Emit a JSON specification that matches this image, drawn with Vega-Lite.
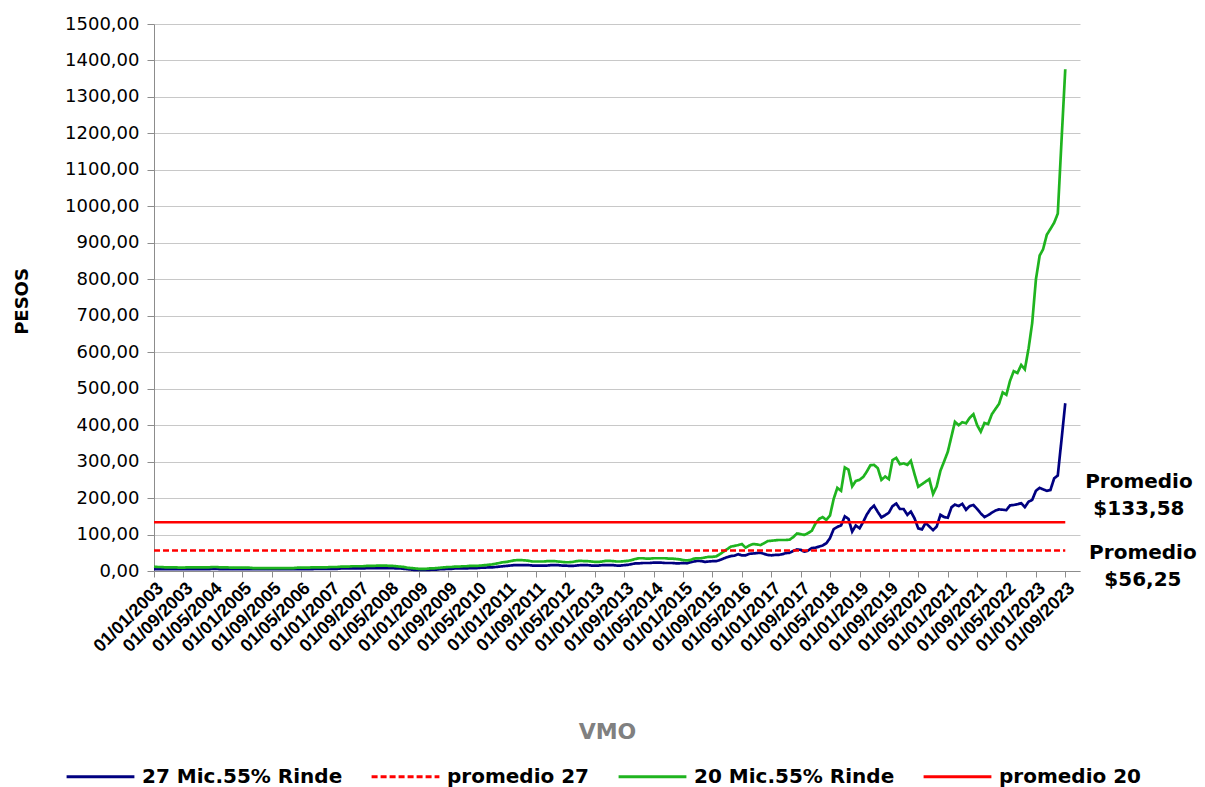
{
"$schema": "https://vega.github.io/schema/vega-lite/v6.json",
"width": 926,
"height": 547,
"autosize": {"type": "none"},
"padding": {"left": 154, "top": 24, "right": 125, "bottom": 216},
"background": "white",
"config": {"view": {"stroke": null}, "font": "DejaVu Sans"},
"data": {"values": [
{"d":"2003-01-01","a":5,"g":12},{"d":"2003-02-01","a":5,"g":11},{"d":"2003-03-01","a":5,"g":11},{"d":"2003-04-01","a":5,"g":10},{"d":"2003-05-01","a":5,"g":10},{"d":"2003-06-01","a":5,"g":10},{"d":"2003-07-01","a":5,"g":10},{"d":"2003-08-01","a":5,"g":9},{"d":"2003-09-01","a":5,"g":9},{"d":"2003-10-01","a":5,"g":10},{"d":"2003-11-01","a":5,"g":10},{"d":"2003-12-01","a":5,"g":10},
{"d":"2004-01-01","a":5,"g":10},{"d":"2004-02-01","a":5,"g":10},{"d":"2004-03-01","a":5,"g":10},{"d":"2004-04-01","a":5,"g":10},{"d":"2004-05-01","a":6,"g":11},{"d":"2004-06-01","a":6,"g":11},{"d":"2004-07-01","a":5,"g":10},{"d":"2004-08-01","a":5,"g":10},{"d":"2004-09-01","a":5,"g":10},{"d":"2004-10-01","a":5,"g":9},{"d":"2004-11-01","a":5,"g":9},{"d":"2004-12-01","a":5,"g":9},
{"d":"2005-01-01","a":5,"g":9},{"d":"2005-02-01","a":5,"g":9},{"d":"2005-03-01","a":5,"g":9},{"d":"2005-04-01","a":5,"g":8},{"d":"2005-05-01","a":5,"g":8},{"d":"2005-06-01","a":5,"g":8},{"d":"2005-07-01","a":5,"g":8},{"d":"2005-08-01","a":5,"g":8},{"d":"2005-09-01","a":5,"g":8},{"d":"2005-10-01","a":5,"g":8},{"d":"2005-11-01","a":5,"g":8},{"d":"2005-12-01","a":5,"g":8},
{"d":"2006-01-01","a":5,"g":8},{"d":"2006-02-01","a":5,"g":8},{"d":"2006-03-01","a":5,"g":8},{"d":"2006-04-01","a":5,"g":9},{"d":"2006-05-01","a":5,"g":9},{"d":"2006-06-01","a":5,"g":9},{"d":"2006-07-01","a":5,"g":9},{"d":"2006-08-01","a":5,"g":10},{"d":"2006-09-01","a":6,"g":10},{"d":"2006-10-01","a":6,"g":10},{"d":"2006-11-01","a":6,"g":10},{"d":"2006-12-01","a":6,"g":10},
{"d":"2007-01-01","a":6,"g":11},{"d":"2007-02-01","a":6,"g":11},{"d":"2007-03-01","a":6,"g":11},{"d":"2007-04-01","a":7,"g":12},{"d":"2007-05-01","a":7,"g":12},{"d":"2007-06-01","a":7,"g":12},{"d":"2007-07-01","a":7,"g":13},{"d":"2007-08-01","a":7,"g":13},{"d":"2007-09-01","a":7,"g":13},{"d":"2007-10-01","a":7,"g":13},{"d":"2007-11-01","a":8,"g":14},{"d":"2007-12-01","a":8,"g":14},
{"d":"2008-01-01","a":8,"g":14},{"d":"2008-02-01","a":8,"g":15},{"d":"2008-03-01","a":8,"g":15},{"d":"2008-04-01","a":8,"g":15},{"d":"2008-05-01","a":8,"g":14},{"d":"2008-06-01","a":8,"g":14},{"d":"2008-07-01","a":7,"g":13},{"d":"2008-08-01","a":7,"g":12},{"d":"2008-09-01","a":6,"g":11},{"d":"2008-10-01","a":5,"g":9},{"d":"2008-11-01","a":4,"g":8},{"d":"2008-12-01","a":3,"g":7},
{"d":"2009-01-01","a":3,"g":6},{"d":"2009-02-01","a":3,"g":6},{"d":"2009-03-01","a":3,"g":6},{"d":"2009-04-01","a":3,"g":7},{"d":"2009-05-01","a":4,"g":7},{"d":"2009-06-01","a":4,"g":8},{"d":"2009-07-01","a":5,"g":9},{"d":"2009-08-01","a":5,"g":10},{"d":"2009-09-01","a":6,"g":11},{"d":"2009-10-01","a":6,"g":11},{"d":"2009-11-01","a":7,"g":12},{"d":"2009-12-01","a":7,"g":12},
{"d":"2010-01-01","a":7,"g":13},{"d":"2010-02-01","a":7,"g":13},{"d":"2010-03-01","a":8,"g":14},{"d":"2010-04-01","a":8,"g":14},{"d":"2010-05-01","a":8,"g":14},{"d":"2010-06-01","a":9,"g":15},{"d":"2010-07-01","a":9,"g":16},{"d":"2010-08-01","a":10,"g":17},{"d":"2010-09-01","a":10,"g":18},{"d":"2010-10-01","a":11,"g":20},{"d":"2010-11-01","a":12,"g":22},{"d":"2010-12-01","a":13,"g":24},
{"d":"2011-01-01","a":14,"g":25},{"d":"2011-02-01","a":15,"g":27},{"d":"2011-03-01","a":16,"g":29},{"d":"2011-04-01","a":16,"g":30},{"d":"2011-05-01","a":16,"g":30},{"d":"2011-06-01","a":16,"g":29},{"d":"2011-07-01","a":16,"g":28},{"d":"2011-08-01","a":15,"g":26},{"d":"2011-09-01","a":15,"g":26},{"d":"2011-10-01","a":15,"g":26},{"d":"2011-11-01","a":15,"g":26},{"d":"2011-12-01","a":15,"g":27},
{"d":"2012-01-01","a":16,"g":27},{"d":"2012-02-01","a":16,"g":27},{"d":"2012-03-01","a":16,"g":26},{"d":"2012-04-01","a":15,"g":25},{"d":"2012-05-01","a":15,"g":24},{"d":"2012-06-01","a":14,"g":24},{"d":"2012-07-01","a":14,"g":25},{"d":"2012-08-01","a":15,"g":27},{"d":"2012-09-01","a":16,"g":28},{"d":"2012-10-01","a":16,"g":27},{"d":"2012-11-01","a":16,"g":27},{"d":"2012-12-01","a":15,"g":26},
{"d":"2013-01-01","a":15,"g":25},{"d":"2013-02-01","a":15,"g":25},{"d":"2013-03-01","a":16,"g":26},{"d":"2013-04-01","a":16,"g":28},{"d":"2013-05-01","a":16,"g":28},{"d":"2013-06-01","a":16,"g":27},{"d":"2013-07-01","a":15,"g":26},{"d":"2013-08-01","a":15,"g":26},{"d":"2013-09-01","a":16,"g":27},{"d":"2013-10-01","a":17,"g":28},{"d":"2013-11-01","a":19,"g":30},{"d":"2013-12-01","a":21,"g":33},
{"d":"2014-01-01","a":21,"g":35},{"d":"2014-02-01","a":22,"g":35},{"d":"2014-03-01","a":22,"g":34},{"d":"2014-04-01","a":22,"g":34},{"d":"2014-05-01","a":23,"g":35},{"d":"2014-06-01","a":23,"g":35},{"d":"2014-07-01","a":23,"g":35},{"d":"2014-08-01","a":22,"g":35},{"d":"2014-09-01","a":22,"g":34},{"d":"2014-10-01","a":22,"g":34},{"d":"2014-11-01","a":21,"g":33},{"d":"2014-12-01","a":21,"g":32},
{"d":"2015-01-01","a":22,"g":30},{"d":"2015-02-01","a":21,"g":29},{"d":"2015-03-01","a":24,"g":30},{"d":"2015-04-01","a":26,"g":34},{"d":"2015-05-01","a":28,"g":35},{"d":"2015-06-01","a":27,"g":35},{"d":"2015-07-01","a":25,"g":37},{"d":"2015-08-01","a":26,"g":39},{"d":"2015-09-01","a":27,"g":39},{"d":"2015-10-01","a":27,"g":40},{"d":"2015-11-01","a":30,"g":46},{"d":"2015-12-01","a":34,"g":53},
{"d":"2016-01-01","a":38,"g":60},{"d":"2016-02-01","a":41,"g":67},{"d":"2016-03-01","a":42,"g":69},{"d":"2016-04-01","a":46,"g":71},{"d":"2016-05-01","a":43,"g":74},{"d":"2016-06-01","a":43,"g":64},{"d":"2016-07-01","a":47,"g":70},{"d":"2016-08-01","a":48,"g":74},{"d":"2016-09-01","a":49,"g":73},{"d":"2016-10-01","a":50,"g":71},{"d":"2016-11-01","a":47,"g":76},{"d":"2016-12-01","a":44,"g":82},
{"d":"2017-01-01","a":43,"g":83},{"d":"2017-02-01","a":44,"g":84},{"d":"2017-03-01","a":44,"g":85},{"d":"2017-04-01","a":46,"g":85},{"d":"2017-05-01","a":49,"g":85},{"d":"2017-06-01","a":50,"g":86},{"d":"2017-07-01","a":55,"g":93},{"d":"2017-08-01","a":59,"g":103},{"d":"2017-09-01","a":58,"g":101},{"d":"2017-10-01","a":53,"g":99},{"d":"2017-11-01","a":56,"g":104},{"d":"2017-12-01","a":63,"g":110},
{"d":"2018-01-01","a":64,"g":130},{"d":"2018-02-01","a":67,"g":143},{"d":"2018-03-01","a":70,"g":148},{"d":"2018-04-01","a":76,"g":140},{"d":"2018-05-01","a":90,"g":152},{"d":"2018-06-01","a":115,"g":198},{"d":"2018-07-01","a":121,"g":228},{"d":"2018-08-01","a":125,"g":220},{"d":"2018-09-01","a":150,"g":284},{"d":"2018-10-01","a":143,"g":278},{"d":"2018-11-01","a":108,"g":232},{"d":"2018-12-01","a":125,"g":247},
{"d":"2019-01-01","a":117,"g":250},{"d":"2019-02-01","a":135,"g":258},{"d":"2019-03-01","a":154,"g":272},{"d":"2019-04-01","a":170,"g":290},{"d":"2019-05-01","a":179,"g":291},{"d":"2019-06-01","a":162,"g":282},{"d":"2019-07-01","a":147,"g":250},{"d":"2019-08-01","a":153,"g":259},{"d":"2019-09-01","a":160,"g":252},{"d":"2019-10-01","a":178,"g":304},{"d":"2019-11-01","a":185,"g":310},{"d":"2019-12-01","a":170,"g":293},
{"d":"2020-01-01","a":170,"g":295},{"d":"2020-02-01","a":154,"g":291},{"d":"2020-03-01","a":163,"g":302},{"d":"2020-04-01","a":144,"g":265},{"d":"2020-05-01","a":117,"g":231},{"d":"2020-06-01","a":114,"g":238},{"d":"2020-07-01","a":132,"g":245},{"d":"2020-08-01","a":122,"g":252},{"d":"2020-09-01","a":112,"g":211},{"d":"2020-10-01","a":122,"g":232},{"d":"2020-11-01","a":154,"g":275},{"d":"2020-12-01","a":148,"g":300},
{"d":"2021-01-01","a":146,"g":327},{"d":"2021-02-01","a":175,"g":370},{"d":"2021-03-01","a":182,"g":409},{"d":"2021-04-01","a":178,"g":400},{"d":"2021-05-01","a":184,"g":408},{"d":"2021-06-01","a":168,"g":405},{"d":"2021-07-01","a":178,"g":420},{"d":"2021-08-01","a":181,"g":430},{"d":"2021-09-01","a":170,"g":400},{"d":"2021-10-01","a":158,"g":382},{"d":"2021-11-01","a":148,"g":406},{"d":"2021-12-01","a":153,"g":403},
{"d":"2022-01-01","a":160,"g":430},{"d":"2022-02-01","a":166,"g":445},{"d":"2022-03-01","a":169,"g":458},{"d":"2022-04-01","a":168,"g":490},{"d":"2022-05-01","a":167,"g":483},{"d":"2022-06-01","a":180,"g":522},{"d":"2022-07-01","a":181,"g":548},{"d":"2022-08-01","a":183,"g":543},{"d":"2022-09-01","a":186,"g":565},{"d":"2022-10-01","a":175,"g":553},{"d":"2022-11-01","a":190,"g":610},{"d":"2022-12-01","a":195,"g":680},
{"d":"2023-01-01","a":220,"g":800},{"d":"2023-02-01","a":228,"g":865},{"d":"2023-03-01","a":224,"g":882},{"d":"2023-04-01","a":220,"g":922},{"d":"2023-05-01","a":222,"g":938},{"d":"2023-06-01","a":254,"g":955},{"d":"2023-07-01","a":262,"g":980},{"d":"2023-08-01","a":360,"g":1180},{"d":"2023-09-01","a":460,"g":1376}
]},
"encoding": {
"x": {"field": "d", "type": "temporal",
"scale": {"type": "utc", "domain": [{"year": 2003, "month": 1, "date": 1, "utc": true}, {"year": 2024, "month": 1, "date": 1, "utc": true}]},
"axis": {
"values": [
{"year":2003,"month":1,"date":1,"utc":true},{"year":2003,"month":9,"date":1,"utc":true},{"year":2004,"month":5,"date":1,"utc":true},
{"year":2005,"month":1,"date":1,"utc":true},{"year":2005,"month":9,"date":1,"utc":true},{"year":2006,"month":5,"date":1,"utc":true},
{"year":2007,"month":1,"date":1,"utc":true},{"year":2007,"month":9,"date":1,"utc":true},{"year":2008,"month":5,"date":1,"utc":true},
{"year":2009,"month":1,"date":1,"utc":true},{"year":2009,"month":9,"date":1,"utc":true},{"year":2010,"month":5,"date":1,"utc":true},
{"year":2011,"month":1,"date":1,"utc":true},{"year":2011,"month":9,"date":1,"utc":true},{"year":2012,"month":5,"date":1,"utc":true},
{"year":2013,"month":1,"date":1,"utc":true},{"year":2013,"month":9,"date":1,"utc":true},{"year":2014,"month":5,"date":1,"utc":true},
{"year":2015,"month":1,"date":1,"utc":true},{"year":2015,"month":9,"date":1,"utc":true},{"year":2016,"month":5,"date":1,"utc":true},
{"year":2017,"month":1,"date":1,"utc":true},{"year":2017,"month":9,"date":1,"utc":true},{"year":2018,"month":5,"date":1,"utc":true},
{"year":2019,"month":1,"date":1,"utc":true},{"year":2019,"month":9,"date":1,"utc":true},{"year":2020,"month":5,"date":1,"utc":true},
{"year":2021,"month":1,"date":1,"utc":true},{"year":2021,"month":9,"date":1,"utc":true},{"year":2022,"month":5,"date":1,"utc":true},
{"year":2023,"month":1,"date":1,"utc":true},{"year":2023,"month":9,"date":1,"utc":true}
],
"labelExpr": "utcFormat(datum.value, '%d/%m/%Y')",
"labelAngle": -45,
"labelAlign": "right",
"labelBaseline": "top",
"labelFont": "Liberation Sans",
"labelFontWeight": "bold",
"labelFontSize": 18,
"labelColor": "black",
"labelOverlap": false,
"labelBound": false,
"labelFlush": false,
"labelPadding": 2,
"grid": false,
"domainColor": "#8c8c8c",
"tickColor": "#8c8c8c",
"tickSize": 6,
"title": "VMO",
"titleFont": "DejaVu Sans",
"titleFontWeight": "bold",
"titleFontSize": 22,
"titleColor": "#808080",
"titleX": 453,
"titleY": 160,
"titleBaseline": "middle"
}
},
"y": {"field": "v", "type": "quantitative",
"scale": {"domain": [0, 1500], "nice": false},
"axis": {
"values": [0,100,200,300,400,500,600,700,800,900,1000,1100,1200,1300,1400,1500],
"labelExpr": "replace(format(datum.value, '.2f'), '.', ',')",
"labelOverlap": false,
"labelFont": "DejaVu Sans",
"labelFontSize": 18,
"labelColor": "black",
"labelPadding": 8,
"grid": true,
"gridColor": "#c8c8c8",
"gridWidth": 1,
"domainColor": "#8c8c8c",
"tickColor": "#8c8c8c",
"tickSize": 7,
"title": "PESOS",
"titleFont": "DejaVu Sans",
"titleFontWeight": "bold",
"titleFontSize": 18,
"titleColor": "black",
"titleAngle": -90,
"titleX": -132,
"titleY": 277,
"titleBaseline": "middle",
"titleAlign": "center"
}
}
},
"layer": [
{
"transform": [{"fold": ["a", "g"], "as": ["s", "v"]}],
"mark": {"type": "line", "strokeWidth": 2.7},
"encoding": {
"color": {"field": "s", "type": "nominal",
"scale": {"domain": ["a", "p27", "g", "p20"], "range": ["#000080", "#ff0000", "#1fb41f", "#ff0000"]},
"legend": {
"orient": "none", "legendX": -89, "legendY": 717, "direction": "horizontal", "title": null,
"symbolType": "stroke", "symbolSize": 4600, "symbolStrokeWidth": 3,
"labelFont": "DejaVu Sans", "labelFontWeight": "bold", "labelFontSize": 20, "labelColor": "black",
"labelOffset": 6, "columnPadding": 22, "padding": 0, "labelLimit": 0,
"labelExpr": "datum.value == 'a' ? '27 Mic.55% Rinde' : datum.value == 'p27' ? 'promedio 27' : datum.value == 'g' ? '20 Mic.55% Rinde' : 'promedio 20'"
}
},
"strokeDash": {"field": "s", "type": "nominal",
"scale": {"domain": ["a", "p27", "g", "p20"], "range": [[1, 0], [6, 3], [1, 0], [1, 0]]},
"legend": {
"orient": "none", "legendX": -89, "legendY": 717, "direction": "horizontal", "title": null,
"symbolType": "stroke", "symbolSize": 4600, "symbolStrokeWidth": 3,
"labelFont": "DejaVu Sans", "labelFontWeight": "bold", "labelFontSize": 20, "labelColor": "black",
"labelOffset": 6, "columnPadding": 22, "padding": 0, "labelLimit": 0,
"labelExpr": "datum.value == 'a' ? '27 Mic.55% Rinde' : datum.value == 'p27' ? 'promedio 27' : datum.value == 'g' ? '20 Mic.55% Rinde' : 'promedio 20'"
}
}
}
},
{
"data": {"values": [
{"d": "2003-01-01", "s": "p27", "v": 56.25}, {"d": "2023-09-01", "s": "p27", "v": 56.25},
{"d": "2003-01-01", "s": "p20", "v": 133.58}, {"d": "2023-09-01", "s": "p20", "v": 133.58}
]},
"mark": {"type": "line", "strokeWidth": 2.6},
"encoding": {
"color": {"field": "s", "type": "nominal"},
"strokeDash": {"field": "s", "type": "nominal"}
}
},
{
"data": {"values": [{"d": "2025-05-03", "v": 133.58, "t": ["Promedio", "$133,58"]}]},
"mark": {"type": "text", "font": "DejaVu Sans", "fontWeight": "bold", "fontSize": 20, "color": "black", "align": "center", "baseline": "middle", "lineHeight": 27, "dy": -40},
"encoding": {
"text": {"field": "t"}
}
},
{
"data": {"values": [{"d": "2025-06-05", "v": 56.25, "t": ["Promedio", "$56,25"]}]},
"mark": {"type": "text", "font": "DejaVu Sans", "fontWeight": "bold", "fontSize": 20, "color": "black", "align": "center", "baseline": "middle", "lineHeight": 27, "dy": 3},
"encoding": {
"text": {"field": "t"}
}
}
]
}
